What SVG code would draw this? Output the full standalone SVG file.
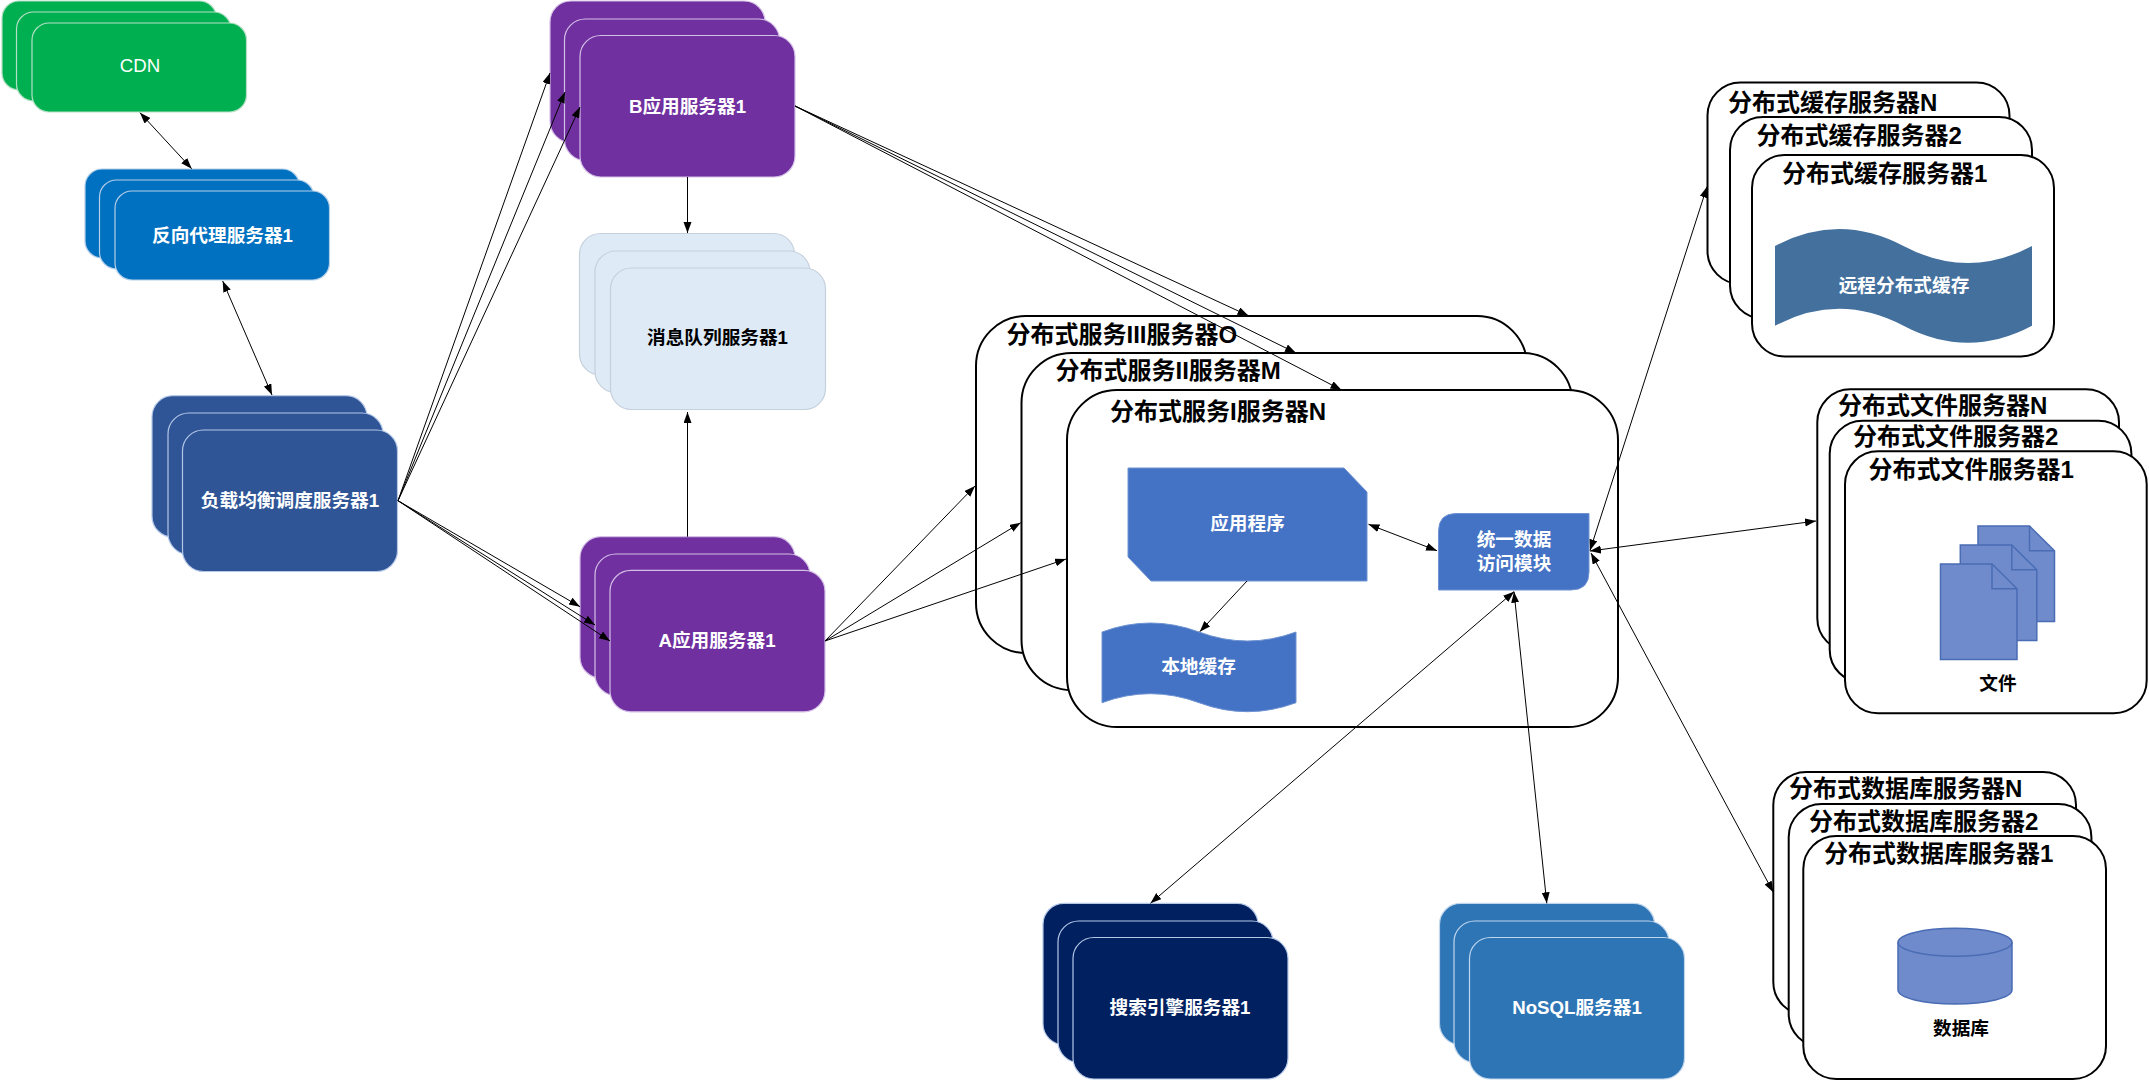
<svg xmlns="http://www.w3.org/2000/svg" width="2149" height="1081" viewBox="0 0 2149 1081">
<style>
  text { font-family: "Liberation Sans", "Noto Sans CJK SC", sans-serif; text-anchor: middle; dominant-baseline: central; stroke: none; }
  .lbl { font-size: 18.67px; font-weight: 700; fill: #fff; }
  .dark { fill: #000; }
  .plain { font-weight: 400; }
  .title { font-size: 24px; font-weight: 700; fill: #000; text-anchor: start; }
  .card { stroke-width: 1.2; }
  .green { fill: #00B050; stroke: #b5e0c5; }
  .proxy { fill: #0070C0; stroke: #b4cfe8; }
  .lb { fill: #2F5597; stroke: #b4c7e7; }
  .violet { fill: #7030A0; stroke: #d4bfe6; }
  .mq { fill: #DEEBF7; stroke: #c5d0dc; }
  .navy { fill: #002060; stroke: #b4c7e7; }
  .nosql { fill: #2E75B6; stroke: #c0d6ec; }
  .box { fill: #fff; stroke: #000; stroke-width: 2; }
  .solid { fill: #4472C4; stroke: #6f93d2; stroke-width: 1; }
  .soft { fill: #6F8BCB; stroke: #4a6cb4; stroke-width: 1.5; }
  .wire { fill: none; stroke: #000; stroke-width: 1; marker-end: url(#tip); }
  .both { marker-start: url(#tip); }
</style>
<defs>
  <marker id="tip" markerUnits="userSpaceOnUse" markerWidth="12" markerHeight="9" refX="11" refY="4" orient="auto-start-reverse">
    <path d="M0,0 L11,4 L0,8 Z" fill="#000"/>
  </marker>
  <rect id="wide" width="214.5" height="89" rx="17"/>
  <rect id="tall" width="215" height="141.5" rx="21"/>
  <rect id="svc" width="551" height="337" rx="50"/>
  <rect id="cacheBox" width="302" height="201.5" rx="33"/>
  <rect id="fileBox" width="301.7" height="262" rx="33"/>
  <rect id="dbBox" width="302.7" height="243" rx="33"/>
  <path id="doc" d="M0,0 H51.5 L76.5,24.7 V95.5 H0 Z"/>
</defs>

<g id="cdn" class="green">
  <use href="#wide" class="card" x="2" y="1"/>
  <use href="#wide" class="card" x="16.500" y="12"/>
  <use href="#wide" class="card" x="32" y="23"/>
  <text class="lbl plain" x="140" y="65.500">CDN</text>
</g>
<g id="reverse-proxy" class="proxy">
  <use href="#wide" class="card" x="85" y="169"/>
  <use href="#wide" class="card" x="99.500" y="180"/>
  <use href="#wide" class="card" x="115" y="191"/>
  <text class="lbl" x="222.500" y="235">反向代理服务器1</text>
</g>
<g id="load-balancer" class="lb">
  <use href="#tall" class="card" x="152" y="395.700"/>
  <use href="#tall" class="card" x="168" y="413"/>
  <use href="#tall" class="card" x="182.500" y="430"/>
  <text class="lbl" x="290" y="500">负载均衡调度服务器1</text>
</g>
<g id="app-a" class="violet">
  <use href="#tall" class="card" x="580" y="536.700"/>
  <use href="#tall" class="card" x="595" y="554"/>
  <use href="#tall" class="card" x="610" y="570.300"/>
  <text class="lbl" x="717" y="640.500">A应用服务器1</text>
</g>
<g id="app-b" class="violet">
  <use href="#tall" class="card" x="550" y="1"/>
  <use href="#tall" class="card" x="564.500" y="19"/>
  <use href="#tall" class="card" x="580" y="35.500"/>
  <text class="lbl" x="687.500" y="106">B应用服务器1</text>
</g>
<g id="message-queue" class="mq">
  <use href="#tall" class="card" x="579.500" y="233.500"/>
  <use href="#tall" class="card" x="595" y="251"/>
  <use href="#tall" class="card" x="610.500" y="268"/>
  <text class="lbl dark" x="717.500" y="337.500">消息队列服务器1</text>
</g>
<g id="search" class="navy">
  <use href="#tall" class="card" x="1043" y="903.300"/>
  <use href="#tall" class="card" x="1058" y="921"/>
  <use href="#tall" class="card" x="1073" y="937.500"/>
  <text class="lbl" x="1180" y="1007">搜索引擎服务器1</text>
</g>
<g id="nosql" class="nosql">
  <use href="#tall" class="card" x="1439.500" y="903.300"/>
  <use href="#tall" class="card" x="1454" y="921"/>
  <use href="#tall" class="card" x="1469.500" y="937.500"/>
  <text class="lbl" x="1577" y="1007">NoSQL服务器1</text>
</g>

<g id="service-cluster">
  <use href="#svc" class="box" x="976" y="316"/>
  <text class="title" x="1006.500" y="334">分布式服务III服务器O</text>
  <use href="#svc" class="box" x="1021.500" y="353"/>
  <text class="title" x="1055.500" y="370">分布式服务II服务器M</text>
  <use href="#svc" class="box" x="1067" y="390"/>
  <text class="title" x="1110" y="411.500">分布式服务I服务器N</text>
</g>
<g id="application">
  <path class="solid" d="M1128,468 H1344 L1367,492 V581 H1151 L1128,557 Z"/>
  <text class="lbl" x="1247.500" y="523">应用程序</text>
</g>
<g id="local-cache">
  <path class="solid" d="M1102,632 Q1150.500,614 1199,632 T1296,632 V702.700 Q1247.500,720.700 1199,702.700 T1102,702.700 Z"/>
  <text class="lbl" x="1198.500" y="666.500">本地缓存</text>
</g>
<g id="data-access">
  <path class="solid" d="M1456,513.500 H1589 V572 Q1589,590 1571,590 H1438.500 V531.500 Q1438.500,513.500 1456,513.500 Z"/>
  <text class="lbl" x="1514" y="539.500">统一数据</text>
  <text class="lbl" x="1514" y="563">访问模块</text>
</g>

<g id="cache-cluster">
  <use href="#cacheBox" class="box" x="1707.500" y="82.500"/>
  <text class="title" x="1728" y="102.500">分布式缓存服务器N</text>
  <use href="#cacheBox" class="box" x="1730" y="117"/>
  <text class="title" x="1756.500" y="135">分布式缓存服务器2</text>
  <use href="#cacheBox" class="box" x="1752" y="155"/>
  <text class="title" x="1782" y="173.500">分布式缓存服务器1</text>
  <path fill="#44709E" d="M1775,246 Q1839,212 1903.500,246 T2032,246 V325.700 Q1968,359.700 1903.500,325.700 T1775,325.700 Z"/>
  <text class="lbl" x="1904" y="285">远程分布式缓存</text>
</g>

<g id="file-cluster">
  <use href="#fileBox" class="box" x="1817.300" y="389.300"/>
  <text class="title" x="1838" y="405">分布式文件服务器N</text>
  <use href="#fileBox" class="box" x="1829.700" y="420.700"/>
  <text class="title" x="1853" y="436.500">分布式文件服务器2</text>
  <use href="#fileBox" class="box" x="1845" y="451.300"/>
  <text class="title" x="1868.500" y="469.500">分布式文件服务器1</text>
  <g class="soft">
    <use href="#doc" x="1978" y="526"/>
    <path d="M2029.500,526 V550.700 H2054.500" fill="none"/>
    <use href="#doc" x="1960.300" y="545"/>
    <path d="M2011.800,545 V569.700 H2036.800" fill="none"/>
    <use href="#doc" x="1940.500" y="564"/>
    <path d="M1992,564 V588.700 H2017" fill="none"/>
  </g>
  <text class="lbl dark" x="1998" y="683.500">文件</text>
</g>

<g id="db-cluster">
  <use href="#dbBox" class="box" x="1773.300" y="772"/>
  <text class="title" x="1789" y="788.500">分布式数据库服务器N</text>
  <use href="#dbBox" class="box" x="1788.700" y="804"/>
  <text class="title" x="1809" y="821.500">分布式数据库服务器2</text>
  <use href="#dbBox" class="box" x="1803.300" y="836"/>
  <text class="title" x="1824" y="853.500">分布式数据库服务器1</text>
  <path class="soft" d="M1898,942.300 A57,14 0 0 1 2012,942.300 V990 A57,14 0 0 1 1898,990 Z"/>
  <path class="soft" style="fill:none" d="M1898,942.300 A57,14 0 0 0 2012,942.300"/>
  <text class="lbl dark" x="1961" y="1028.500">数据库</text>
</g>

<g id="connectors">
  <line class="wire both" x1="140" y1="112.700" x2="191.700" y2="168.700"/>
  <line class="wire both" x1="222.700" y1="281" x2="272" y2="395"/>
  <line class="wire" x1="398" y1="500.700" x2="550" y2="73"/>
  <line class="wire" x1="398" y1="500.700" x2="565" y2="92"/>
  <line class="wire" x1="398" y1="500.700" x2="580" y2="107"/>
  <line class="wire" x1="398" y1="500.700" x2="580" y2="606.700"/>
  <line class="wire" x1="398" y1="500.700" x2="595" y2="625"/>
  <line class="wire" x1="398" y1="500.700" x2="610" y2="641"/>
  <line class="wire" x1="687.500" y1="177" x2="687.500" y2="233"/>
  <line class="wire" x1="687.500" y1="536.700" x2="687.500" y2="412"/>
  <line class="wire" x1="795" y1="106" x2="1248.500" y2="315.700"/>
  <line class="wire" x1="795" y1="106" x2="1296" y2="353"/>
  <line class="wire" x1="795" y1="106" x2="1341.500" y2="390"/>
  <line class="wire" x1="825" y1="641" x2="975" y2="486"/>
  <line class="wire" x1="825" y1="641" x2="1020.700" y2="522.700"/>
  <line class="wire" x1="825" y1="641" x2="1066" y2="559"/>
  <line class="wire both" x1="1368.500" y1="524.300" x2="1437" y2="550.700"/>
  <line class="wire" x1="1247" y1="581" x2="1199.800" y2="631.700"/>
  <line class="wire both" x1="1590" y1="550.500" x2="1707" y2="186.700"/>
  <line class="wire both" x1="1590" y1="551" x2="1816" y2="521"/>
  <line class="wire both" x1="1591" y1="553" x2="1773.300" y2="892.300"/>
  <line class="wire both" x1="1514" y1="591.700" x2="1150.500" y2="903.300"/>
  <line class="wire both" x1="1514" y1="591.700" x2="1546.800" y2="903.300"/>
</g>
</svg>
